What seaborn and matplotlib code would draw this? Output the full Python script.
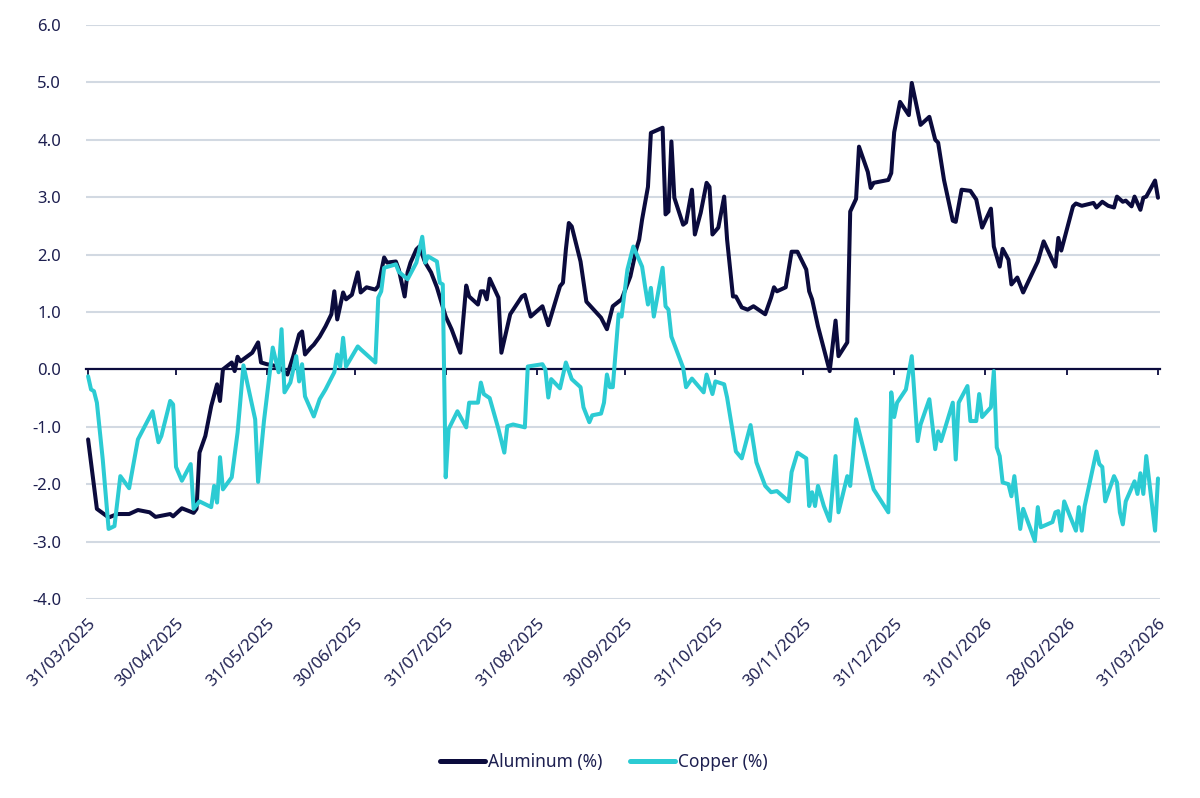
import pandas as pd
import matplotlib
matplotlib.use("Agg")
import matplotlib.pyplot as plt
import matplotlib.dates as mdates
import seaborn as sns

# days counted from 31/03/2025, values in %
start_date = "2025-03-31"

alu_days = [0, 3, 7, 10, 14, 17, 21, 23, 28, 29,
            32, 36, 37, 38, 40, 42, 44, 45, 46, 49,
            50, 51, 52, 56, 58, 59, 61, 65, 68, 70,
            72, 73, 74, 76, 77, 79, 81, 83, 84, 85,
            87, 88, 90, 92, 93, 95, 98, 99, 101, 102,
            105, 106, 108, 109, 110, 112, 113, 115, 117, 119,
            122, 124, 127, 129, 130, 133, 134, 135, 136, 137,
            140, 141, 144, 148, 149, 151, 155, 157, 161, 162,
            163, 164, 165, 168, 170, 175, 177, 179, 182, 185,
            187, 188, 189, 191, 192, 196, 197, 198, 199, 200,
            203, 204, 206, 207, 209, 211, 212, 213, 215, 217,
            218, 220, 221, 223, 225, 227, 231, 233, 234, 235,
            238, 240, 242, 245, 246, 247, 249, 253, 255, 256,
            259, 260, 262, 263, 266, 267, 268, 273, 274, 275,
            277, 280, 281, 284, 287, 289, 290, 292, 295, 296,
            298, 301, 303, 305, 308, 309, 311, 312, 314, 315,
            317, 319, 324, 326, 330, 331, 332, 336, 337, 339,
            343, 344, 346, 348, 350, 351, 353, 354, 356, 357,
            359, 360, 361, 364, 365]
alu_values = [-1.22, -2.43, -2.58, -2.52, -2.52, -2.45, -2.49, -2.57, -2.52, -2.56,
              -2.42, -2.50, -2.43, -1.45, -1.16, -0.64, -0.26, -0.55, 0.00, 0.12,
              -0.03, 0.22, 0.14, 0.29, 0.47, 0.12, 0.09, 0.05, -0.09, 0.23,
              0.61, 0.66, 0.26, 0.38, 0.43, 0.57, 0.75, 0.96, 1.36, 0.87,
              1.34, 1.22, 1.30, 1.69, 1.34, 1.43, 1.39, 1.45, 1.95, 1.86,
              1.88, 1.74, 1.27, 1.69, 1.86, 2.09, 2.14, 1.86, 1.69, 1.43,
              0.92, 0.70, 0.29, 1.46, 1.27, 1.13, 1.36, 1.36, 1.22, 1.58,
              1.25, 0.29, 0.96, 1.27, 1.30, 0.92, 1.10, 0.77, 1.45, 1.51,
              2.09, 2.55, 2.49, 1.88, 1.18, 0.90, 0.70, 1.10, 1.22, 1.62,
              2.09, 2.26, 2.61, 3.18, 4.12, 4.21, 2.70, 2.75, 3.97, 2.99,
              2.52, 2.56, 3.13, 2.35, 2.73, 3.25, 3.18, 2.35, 2.47, 3.01,
              2.26, 1.27, 1.27, 1.08, 1.04, 1.10, 0.96, 1.25, 1.43, 1.36,
              1.43, 2.05, 2.05, 1.74, 1.36, 1.22, 0.75, -0.03, 0.85, 0.23,
              0.47, 2.75, 2.97, 3.88, 3.44, 3.16, 3.25, 3.30, 3.42, 4.13,
              4.66, 4.43, 4.99, 4.26, 4.40, 4.00, 3.95, 3.30, 2.59, 2.57,
              3.13, 3.11, 2.96, 2.47, 2.80, 2.14, 1.79, 2.10, 1.91, 1.48,
              1.60, 1.34, 1.88, 2.23, 1.79, 2.29, 2.07, 2.84, 2.89, 2.85,
              2.90, 2.82, 2.92, 2.85, 2.82, 3.01, 2.92, 2.94, 2.84, 3.01,
              2.78, 2.99, 3.01, 3.29, 2.99]

cu_days = [0, 1, 2, 3, 5, 7, 9, 11, 14, 17,
           22, 24, 25, 28, 29, 30, 32, 35, 36, 38,
           42, 43, 44, 45, 46, 49, 51, 53, 57, 58,
           60, 63, 65, 66, 67, 69, 71, 72, 73, 74,
           77, 79, 81, 84, 85, 86, 87, 88, 92, 93,
           98, 99, 100, 101, 105, 106, 109, 112, 114, 115,
           116, 119, 120, 121, 122, 123, 126, 129, 130, 133,
           134, 135, 137, 140, 142, 143, 145, 149, 150, 155,
           156, 157, 158, 161, 163, 165, 168, 169, 171, 172,
           175, 176, 177, 178, 179, 181, 182, 184, 186, 189,
           190, 191, 192, 193, 196, 197, 198, 199, 203, 204,
           206, 210, 211, 213, 214, 217, 218, 221, 223, 226,
           228, 231, 233, 235, 239, 240, 242, 245, 246, 247,
           248, 249, 251, 253, 255, 256, 259, 260, 262, 266,
           268, 273, 274, 275, 276, 279, 281, 283, 284, 287,
           289, 290, 291, 295, 296, 297, 300, 301, 303, 304,
           305, 308, 309, 310, 311, 312, 314, 315, 316, 318,
           319, 323, 324, 325, 329, 330, 331, 332, 333, 335,
           337, 338, 339, 340, 344, 345, 346, 347, 350, 351,
           352, 353, 354, 357, 358, 359, 360, 361, 364, 365]
cu_values = [-0.12, -0.35, -0.38, -0.58, -1.57, -2.78, -2.73, -1.86, -2.07, -1.22,
             -0.73, -1.27, -1.16, -0.55, -0.61, -1.70, -1.94, -1.65, -2.43, -2.30,
             -2.40, -2.03, -2.32, -1.53, -2.09, -1.88, -1.10, 0.07, -0.87, -1.96,
             -0.90, 0.38, -0.05, 0.70, -0.40, -0.23, 0.23, -0.21, 0.09, -0.47,
             -0.82, -0.52, -0.35, -0.05, 0.26, 0.05, 0.55, 0.05, 0.40, 0.35,
             0.12, 1.25, 1.36, 1.77, 1.83, 1.70, 1.57, 1.86, 2.31, 1.86,
             1.97, 1.88, 1.51, 1.48, -1.88, -1.04, -0.73, -1.01, -0.58, -0.58,
             -0.23, -0.43, -0.50, -1.04, -1.45, -0.99, -0.96, -1.01, 0.05, 0.09,
             0.00, -0.49, -0.17, -0.33, 0.12, -0.17, -0.31, -0.66, -0.92, -0.80,
             -0.77, -0.58, -0.09, -0.31, -0.31, 0.96, 0.92, 1.74, 2.14, 1.79,
             1.45, 1.13, 1.42, 0.92, 1.77, 1.10, 1.04, 0.57, 0.03, -0.31,
             -0.16, -0.40, -0.09, -0.43, -0.21, -0.26, -0.49, -1.43, -1.55, -0.97,
             -1.62, -2.03, -2.14, -2.12, -2.30, -1.79, -1.45, -1.55, -2.38, -2.14,
             -2.38, -2.03, -2.38, -2.64, -1.51, -2.49, -1.86, -2.03, -0.87, -1.69,
             -2.09, -2.49, -0.40, -0.83, -0.58, -0.35, 0.23, -1.25, -0.96, -0.52,
             -1.39, -1.08, -1.25, -0.58, -1.57, -0.58, -0.29, -0.90, -0.90, -0.43,
             -0.83, -0.66, -0.03, -1.36, -1.51, -1.97, -2.00, -2.21, -1.86, -2.78,
             -2.43, -2.99, -2.40, -2.75, -2.66, -2.49, -2.47, -2.81, -2.30, -2.56,
             -2.81, -2.40, -2.81, -2.38, -1.43, -1.65, -1.70, -2.30, -1.86, -1.97,
             -2.49, -2.70, -2.30, -1.95, -2.17, -1.81, -2.17, -1.51, -2.81, -1.90]

tick_dates = ["2025-03-31", "2025-04-30", "2025-05-31", "2025-06-30", "2025-07-31",
              "2025-08-31", "2025-09-30", "2025-10-31", "2025-11-30", "2025-12-31",
              "2026-01-31", "2026-02-28", "2026-03-31"]
y_ticks = [-4, -3, -2, -1, 0, 1, 2, 3, 4, 5, 6]

series_names = ["Aluminum (%)", "Copper (%)"]
NAVY = "#0b0b3d"
CYAN = "#2ccbd3"
TEXT = "#1d1f50"
GRID = "#d2d9e2"

start = pd.Timestamp(start_date)
alu = pd.DataFrame({"date": start + pd.to_timedelta(alu_days, unit="D"),
                    "value": alu_values, "series": series_names[0]})
cu = pd.DataFrame({"date": start + pd.to_timedelta(cu_days, unit="D"),
                   "value": cu_values, "series": series_names[1]})
df = pd.concat([alu, cu], ignore_index=True)
df["x"] = mdates.date2num(df["date"])

sns.set_theme(style="white")
plt.rcParams["font.family"] = ["Noto Sans", "DejaVu Sans"]

fig = plt.figure(figsize=(12, 7.98), dpi=100)
ax = fig.add_axes([0.0717, 0.2494, 0.895, 0.7193])

sns.lineplot(data=df, x="x", y="value", hue="series", hue_order=series_names,
             palette={series_names[0]: NAVY, series_names[1]: CYAN},
             estimator=None, linewidth=2.9, ax=ax)

tick_nums = mdates.date2num(pd.to_datetime(tick_dates))
tick_labels = [d.strftime("%d/%m/%Y") for d in pd.to_datetime(tick_dates)]
ax.set_xlim(tick_nums[0] - 0.7, tick_nums[-1] + 0.7)
ax.set_ylim(-4, 6)

# y axis
ax.set_yticks(y_ticks)
ax.set_yticklabels([f"{v:.1f}" for v in y_ticks])
ax.tick_params(axis="y", length=0, pad=18, labelsize=12, labelcolor=TEXT)
ax.yaxis.grid(True, color=GRID, linewidth=1.5)
ax.xaxis.grid(False)
ax.set_axisbelow(True)
for side in ["left", "right", "top"]:
    ax.spines[side].set_visible(False)

# category line sits at zero, labels stay at the bottom
ax.spines["bottom"].set_position(("data", 0))
ax.spines["bottom"].set_color(NAVY)
ax.spines["bottom"].set_linewidth(1.6)
ax.spines["bottom"].set_zorder(1.5)
ax.set_xticks(tick_nums)
ax.tick_params(axis="x", direction="out", length=4.5, width=1.3, color=NAVY,
               labelbottom=False, bottom=True)
ax.set_xlabel("")
ax.set_ylabel("")

sec = ax.secondary_xaxis("bottom")
sec.set_xticks(tick_nums, labels=tick_labels)
sec.spines["bottom"].set_visible(False)
sec.tick_params(axis="x", length=0, pad=12, labelsize=12, labelcolor=TEXT)
for lab in sec.get_xticklabels():
    lab.set_rotation(45)
    lab.set_ha("right")
    lab.set_rotation_mode("anchor")

handles, labels = ax.get_legend_handles_labels()
ax.get_legend().remove()
leg = fig.legend(handles, labels, loc="center", bbox_to_anchor=(0.503, 0.045),
                 ncol=2, frameon=False, handlelength=2.6, handletextpad=0.15,
                 columnspacing=1.6, fontsize=12.5, labelcolor=TEXT)
for line in leg.get_lines():
    line.set_linewidth(3.6)

fig.savefig("out.png", dpi=100)
